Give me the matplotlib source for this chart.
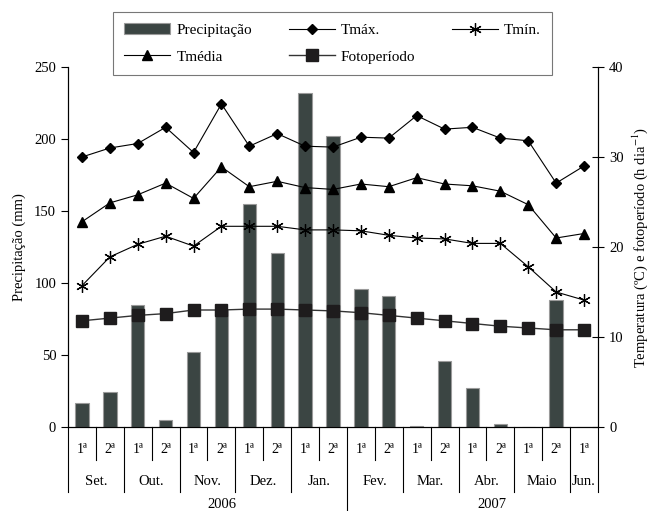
import matplotlib.pyplot as plt
import matplotlib.transforms as mtransforms

plt.rcParams['font.family'] = ['Liberation Serif', 'DejaVu Serif']
plt.rcParams['mathtext.fontset'] = 'stix'

# Quinzenas (1ª / 2ª) de set/2006 a jun/2007
quinzenas = ['1ª', '2ª'] * 9 + ['1ª']
meses = ['Set.', 'Out.', 'Nov.', 'Dez.', 'Jan.', 'Fev.', 'Mar.', 'Abr.', 'Maio', 'Jun.']
anos = ['2006', '2007']

precipitacao = [17, 24, 85, 5, 52, 81, 155, 121, 232, 202,
                96, 91, 1, 46, 27, 2, 0, 88, 0]
tmax = [30.0, 31.0, 31.5, 33.3, 30.5, 35.9, 31.2, 32.6, 31.2, 31.1,
        32.2, 32.1, 34.6, 33.1, 33.3, 32.1, 31.8, 27.1, 29.0]
tmin = [15.7, 18.9, 20.3, 21.2, 20.1, 22.3, 22.3, 22.3, 21.9, 21.9,
        21.8, 21.3, 21.0, 20.9, 20.4, 20.4, 17.8, 15.0, 14.1]
tmedia = [22.8, 24.9, 25.8, 27.1, 25.4, 28.9, 26.7, 27.3, 26.6, 26.4,
          27.0, 26.7, 27.7, 27.0, 26.8, 26.2, 24.7, 21.0, 21.5]
fotoperiodo = [11.8, 12.1, 12.4, 12.6, 13.0, 13.0, 13.1, 13.1, 13.0, 12.9,
               12.7, 12.4, 12.1, 11.8, 11.5, 11.2, 11.0, 10.8, 10.8]

x = list(range(len(quinzenas)))

fig = plt.figure(figsize=(6.51, 5.11), dpi=100)
ax = fig.add_axes([68 / 651, 84 / 511, 530 / 651, 360 / 511])
ax2 = ax.twinx()

bars = ax.bar(x, precipitacao, width=0.48, color='#3b4543', edgecolor='#9a9a9a',
              linewidth=0.8, label='Precipitação', zorder=1)
ax.set_xlim(-0.5, len(x) - 0.5)
ax.set_ylim(0, 250)
ax.set_yticks([0, 50, 100, 150, 200, 250])
ax.set_xticks([])
ax.set_ylabel('Precipitação (mm)', fontsize=10.5, labelpad=6)

lw = 0.8
l_tmax, = ax2.plot(x, tmax, color='black', lw=lw, marker='D', ms=5.5, label='Tmáx.')
l_tmin, = ax2.plot(x, tmin, color='black', lw=lw, marker=(6, 2, 0), ms=9,
                   mew=0.9, label='Tmín.')
l_tmed, = ax2.plot(x, tmedia, color='black', lw=lw, marker='^', ms=7, label='Tmédia')
l_foto, = ax2.plot(x, fotoperiodo, color='#333333', lw=1.0, marker='s', ms=9,
                   mfc='#1e1c1d', mec='#1e1c1d', label='Fotoperíodo')
ax2.set_ylim(0, 40)
ax2.set_yticks([0, 10, 20, 30, 40])
ax2.set_ylabel('Temperatura (ºC) e fotoperíodo (h dia$^{-1}$)', fontsize=10.5, labelpad=5)

for a in (ax, ax2):
    a.spines['top'].set_visible(False)
    a.tick_params(labelsize=10.5, width=0.8, length=5)
ax2.tick_params(axis='y', direction='inout', length=9)
ax.spines['left'].set_linewidth(0.8)
ax2.spines['right'].set_linewidth(0.8)
ax.spines['bottom'].set_linewidth(0.8)

# tabela de categorias abaixo do eixo x
tr = mtransforms.blended_transform_factory(ax.transData, ax.transAxes)
for i, q in enumerate(quinzenas):
    ax.text(i, -0.063, q, transform=tr, ha='center', va='center', fontsize=10)
for i in range(len(x) + 1):
    pos = i - 0.5
    if i == 0 or i % 2 == 0 or i == len(x):
        y_end = -0.18
    else:
        y_end = -0.092
    if i == 10:
        y_end = -0.24
    ax.plot([pos, pos], [0, y_end], transform=tr, color='black', lw=0.8, clip_on=False)
for j, m in enumerate(meses):
    centro = 2 * j + 0.5 if j < len(meses) - 1 else 2 * j
    ax.text(centro, -0.15, m, transform=tr, ha='center', va='center', fontsize=10.5)
ax.text(5.0, -0.215, anos[0], transform=tr, ha='center', va='center', fontsize=10.5)
ax.text(14.7, -0.215, anos[1], transform=tr, ha='center', va='center', fontsize=10.5)

handles = [bars, l_tmed, l_tmax, l_foto, l_tmin]
labels = [h.get_label() for h in handles]
leg = fig.legend(handles, labels, ncol=3, loc='upper left',
                 bbox_to_anchor=(113 / 651, 1 - 12 / 511), fontsize=11,
                 frameon=True, fancybox=False, edgecolor='#555555',
                 handlelength=3.0, columnspacing=2.4, borderpad=0.75,
                 labelspacing=0.85, handletextpad=0.4, borderaxespad=0)
leg.get_frame().set_linewidth(0.8)

fig.savefig('out.png', dpi=100)
